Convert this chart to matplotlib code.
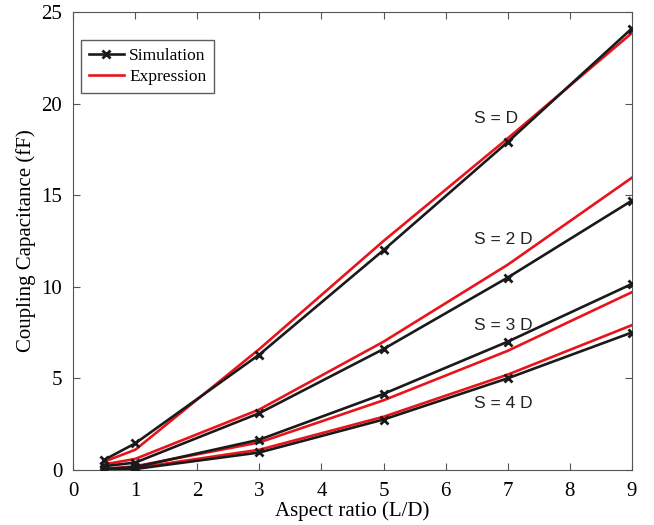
import matplotlib
matplotlib.use('Agg')
import matplotlib.pyplot as plt

# Aspect ratio points
x = [0.5, 1, 3, 5, 7, 9]

# Simulation results (fF)
sim_1d = [0.55, 1.45, 6.3, 12.0, 17.9, 24.1]
sim_2d = [0.2, 0.4, 3.1, 6.6, 10.5, 14.7]
sim_3d = [0.05, 0.15, 1.65, 4.15, 7.0, 10.15]
sim_4d = [0.02, 0.05, 0.95, 2.75, 5.0, 7.5]

# Analytical expression (fF)
exp_1d = [0.45, 1.1, 6.6, 12.5, 18.1, 23.85]
exp_2d = [0.3, 0.6, 3.3, 7.0, 11.2, 15.95]
exp_3d = [0.05, 0.2, 1.5, 3.8, 6.5, 9.7]
exp_4d = [0.03, 0.1, 1.1, 2.9, 5.2, 7.9]

labels = ['S = D', 'S = 2 D', 'S = 3 D', 'S = 4 D']
label_pos = [(6.45, 19.2), (6.45, 12.6), (6.45, 7.9), (6.45, 3.6)]

serif = 'Liberation Serif'

fig = plt.figure(figsize=(6.54, 5.25), dpi=100)
ax = fig.add_axes([0.112, 0.105, 0.854, 0.872])

sims = [sim_1d, sim_2d, sim_3d, sim_4d]
exps = [exp_1d, exp_2d, exp_3d, exp_4d]
for i in range(4):
    ax.plot(x, sims[i], color='#1a1a1a', lw=1.9, marker='x', ms=6, mew=2,
            label='Simulation' if i == 0 else None, zorder=3)
    ax.plot(x, exps[i], color='#e8141c', lw=1.9,
            label='Expression' if i == 0 else None, zorder=2)

for lab, (tx, ty) in zip(labels, label_pos):
    ax.text(tx, ty, lab, family='Liberation Sans', fontsize=12.5,
            va='center', ha='left', color='#222222')

ax.set_xlim(0, 9)
ax.set_ylim(0, 25)
ax.set_xticks(range(0, 10))
ax.set_yticks(range(0, 26, 5))
ax.tick_params(direction='in', top=True, right=True, length=5,
               labelsize=15, color='#555555')
ax.tick_params(axis='x', pad=9)
ax.tick_params(axis='y', pad=8)
for t in ax.get_xticklabels() + ax.get_yticklabels():
    t.set_family(serif)
for s in ax.spines.values():
    s.set_color('#555555')

ax.set_xlabel('Aspect ratio (L/D)', family=serif, fontsize=15, labelpad=0)
ax.set_ylabel('Coupling Capacitance (fF)', family=serif, fontsize=15, labelpad=4)

leg = ax.legend(loc='upper left', bbox_to_anchor=(0.005, 0.95), fancybox=False,
                edgecolor='#333333', prop={'family': serif, 'size': 12.5},
                handlelength=2.0, borderpad=0.45, labelspacing=0.3,
                handletextpad=0.3, borderaxespad=0.3)
leg.get_frame().set_linewidth(1.0)

fig.savefig('out.png', dpi=100)
